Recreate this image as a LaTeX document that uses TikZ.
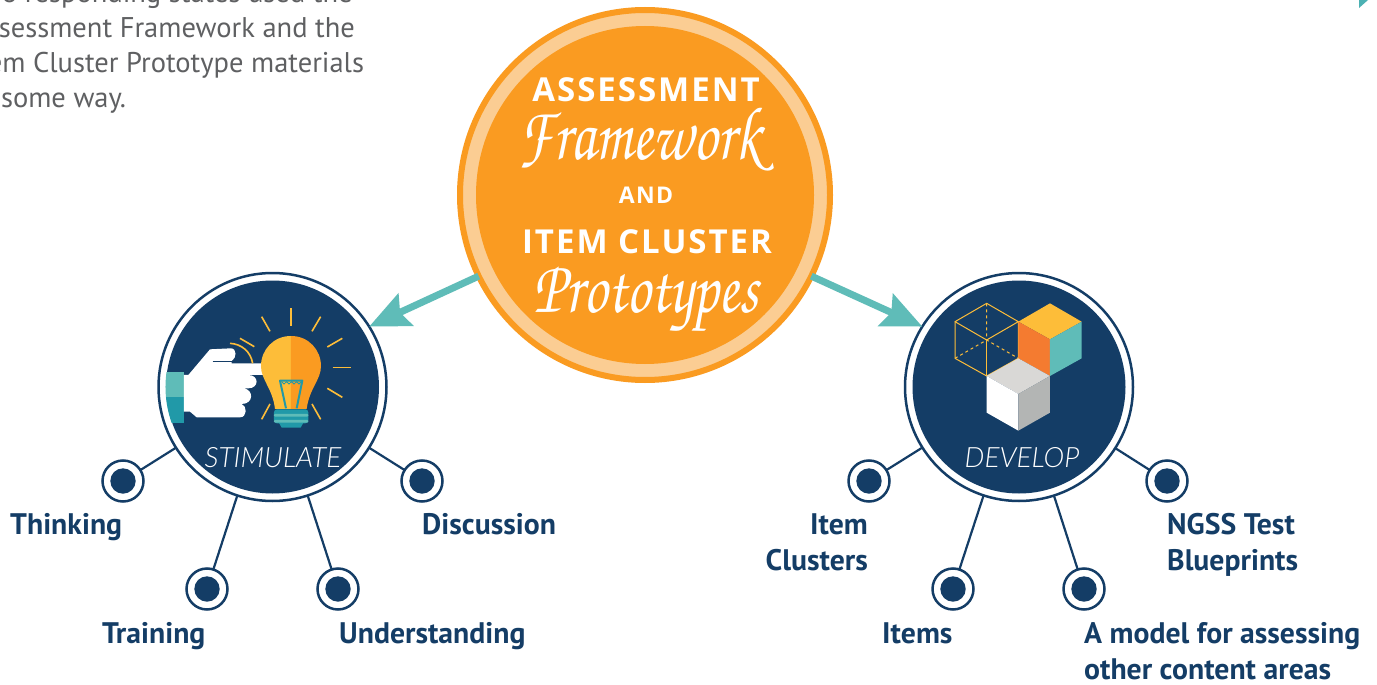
\documentclass[tikz,border=0pt]{standalone}
\usepackage{fontspec}
\usepackage{graphicx}
\usetikzlibrary{arrows.meta}
\setmainfont{Open Sans}
\newfontfamily\bodyfont{PT Sans}
\newfontfamily\capsfont[LetterSpace=6]{Open Sans Bold}
\newfontfamily\handfont{Lato Light Italic}
\newcommand{\penfont}{\usefont{OT1}{pzc}{mb}{it}}
\newcommand{\penline}[1]{\scalebox{0.78}[1]{#1}}
\definecolor{navy}{HTML}{143D66}
\definecolor{ringorange}{HTML}{FA9B21}
\definecolor{cream}{HTML}{FBCD93}
\definecolor{teal}{HTML}{5FBCB8}
\definecolor{darkteal}{HTML}{2199A8}
\definecolor{sun}{HTML}{FDBD39}
\definecolor{cubeorange}{HTML}{F47B30}
\definecolor{cubelight}{HTML}{D9D8D6}
\definecolor{cubegrey}{HTML}{B3B5B4}
\definecolor{bodygrey}{HTML}{5F6062}
\tikzset{
	framering/.style={circle,draw=ringorange,line width=6pt,fill=cream,minimum size=370pt,inner sep=0,outer sep=0,
		path picture={\fill[ringorange] (path picture bounding box.center) circle (169pt);}},
	hubring/.style={circle,draw=navy,line width=2.5pt,fill=white,minimum size=228pt,inner sep=0,outer sep=0,
		path picture={\fill[navy] (path picture bounding box.center) circle (106.5pt);}},
	dotring/.style={circle,draw=navy,line width=2.5pt,fill=white,minimum size=41pt,inner sep=0,outer sep=0,
		path picture={\fill[navy] (path picture bounding box.center) circle (12.7pt);}},
	spoke/.style={draw=navy,line width=2.2pt},
	bigarrow/.style={draw=teal,line width=7pt,-{Stealth[length=40pt,width=35pt,inset=6pt,fill=teal]}},
	itemlabel/.style={text=navy,font=\fontsize{29.7}{36}\selectfont\bfseries\bodyfont,inner sep=0,anchor=base west,align=left},
	bigcaps/.style={text=white,font=\fontsize{33}{33}\selectfont\capsfont,inner sep=0,anchor=base},
	scriptline/.style={text=white,font=\fontsize{76}{76}\selectfont\penfont,inner sep=0,anchor=base},
	handline/.style={text=white,font=\fontsize{28}{28}\selectfont\handfont,inner sep=0,anchor=base},
	ray/.style={draw=sun,line width=1.6pt},
	wire/.style={draw=sun,line width=1pt,line join=round},
}
\begin{document}
\begin{tikzpicture}[x=1pt,y=-1pt]
	\clip (0,0) rectangle (1377,685);
	\fill[white] (0,0) rectangle (1377,685);
	\fill[teal!70!darkteal] (1359,0) -- (1368,0) -- (1359,8) -- cycle;
	% intro text, cut off by the page
	\node[text=bodygrey,font=\fontsize{28.5}{35}\selectfont\bodyfont,anchor=base west,align=left,inner sep=0] (intro) at (-30,107)
		{of 8 responding states used the\\Assessment Framework and the\\Item Cluster Prototype materials\\in some way.};
	% main circles
	\node[framering] (frame) at (645,195) {};
	\node[hubring] (stimulate) at (272.5,387) {};
	\node[hubring] (develop) at (1019,387) {};
	\draw[bigarrow] (frame.206) -- (stimulate.32);
	\draw[bigarrow] (frame.334) -- (develop.148);
	% small dots
	\node[dotring] (thinking) at (123,481) {};
	\node[dotring] (training) at (207,589) {};
	\node[dotring] (understanding) at (338,589) {};
	\node[dotring] (discussion) at (422,481) {};
	\node[dotring] (clusters) at (869,481) {};
	\node[dotring] (items) at (953,589) {};
	\node[dotring] (model) at (1084,589) {};
	\node[dotring] (blueprints) at (1167,481) {};
	\foreach \dotname in {thinking,training,understanding,discussion}
		\draw[spoke] (stimulate) -- (\dotname);
	\foreach \dotname in {clusters,items,model,blueprints}
		\draw[spoke] (develop) -- (\dotname);
	% labels
	\node[itemlabel] (thinkinglabel) at (10,534) {Thinking};
	\node[itemlabel] (traininglabel) at (102,643) {Training};
	\node[itemlabel] (understandinglabel) at (339,643) {Understanding};
	\node[itemlabel] (discussionlabel) at (422,534) {Discussion};
	\node[itemlabel,align=right,anchor=base east] (clusterslabel) at (868,570) {Item\\Clusters};
	\node[itemlabel] (itemslabel) at (882,643) {Items};
	\node[itemlabel] (modellabel) at (1084,679) {A model for assessing\\other content areas};
	\node[itemlabel] (blueprintslabel) at (1167,570) {NGSS Test\\Blueprints};
	% text in the big circle
	\node[bigcaps] (assessment) at (646,101) {ASSESSMENT};
	\node[scriptline] (framework) at (640,159) {\penline{Framework}};
	\node[bigcaps,font=\fontsize{23}{23}\selectfont\capsfont] (andword) at (646,203) {AND};
	\node[bigcaps] (itemcluster) at (647,253) {ITEM CLUSTER};
	\node[scriptline] (prototypes) at (646,312) {\penline{Prototypes}};
	\node[handline] (stimulatetext) at (273,467) {STIMULATE};
	\node[handline] (developtext) at (1022,467) {DEVELOP};
	% hand and bulb
	\begin{scope}[shift={(140,260)},x=0.3333pt,y=-0.3333pt]
		\begin{scope}
			\clip (396,381) circle (106.5pt);
			\fill[teal] (60,335) rectangle (132,410);
			\fill[darkteal] (60,410) rectangle (132,488);
		\end{scope}
		\fill[white] (132,345) -- (145,345) -- (210,268) -- (272,265) .. controls (292,265) and (290,295) .. (275,303) -- (275,310) -- (385,310)
			.. controls (410,310) and (410,345) .. (385,345) -- (325,345) .. controls (358,345) and (358,385) .. (325,385) -- (310,385)
			.. controls (342,388) and (342,432) .. (305,432) .. controls (322,438) and (322,472) .. (300,472) -- (170,472) -- (150,455) -- (132,455) -- cycle;
		\draw[navy,line width=1pt] (218,305) -- (275,305);
		\draw[sun,line width=1.6pt] (270,250) .. controls (305,252) and (332,275) .. (338,310);
		\fill[sun] (453,228) .. controls (400,228) and (363,270) .. (363,318) .. controls (363,360) and (398,385) .. (405,447) -- (453,447) -- cycle;
		\fill[ringorange] (453,228) .. controls (506,228) and (543,270) .. (543,318) .. controls (543,360) and (508,385) .. (500,447) -- (453,447) -- cycle;
		\draw[darkteal,line width=2pt,line join=round] (438,445) -- (420,362) -- (487,362) -- (470,445);
		\draw[darkteal,line width=0.8pt] (425,365) -- (432,372) -- (440,365) -- (447,372) -- (455,365) -- (462,372) -- (470,365) -- (477,372) -- (484,365);
		\fill[darkteal,rounded corners=3pt] (402,448) rectangle (505,490);
		\fill[darkteal] (415,485) -- (492,485) -- (482,503) -- (425,503) -- cycle;
		\fill[teal,rounded corners=1pt] (402,462) rectangle (505,470);
		\fill[teal,rounded corners=1pt] (402,480) rectangle (505,488);
		\foreach \xa/\ya/\xb/\yb in {453/145/453/198,365/170/390/214,542/170/516/214,607/235/562/261,578/323/632/323,562/385/607/412,516/432/542/478,390/432/365/478,300/235/343/260}
			\draw[ray] (\xa,\ya) -- (\xb,\yb);
	\end{scope}
	% cubes
	\begin{scope}[shift={(890,260)},x=0.3333pt,y=-0.3333pt]
		\draw[wire] (195,185) -- (290,130) -- (385,185) -- (290,240) -- cycle;
		\draw[wire] (195,185) -- (195,295) -- (290,348) -- (385,295) -- (385,185);
		\draw[wire] (290,240) -- (290,348);
		\draw[wire,dashed] (290,130) -- (290,240) (195,295) -- (290,240) -- (385,295);
		\fill[sun] (385,185) -- (480,130) -- (575,185) -- (480,238) -- cycle;
		\fill[cubeorange] (385,185) -- (480,238) -- (480,348) -- (385,295) -- cycle;
		\fill[teal] (480,238) -- (575,185) -- (575,295) -- (480,348) -- cycle;
		\fill[cubelight] (290,348) -- (385,295) -- (480,348) -- (385,402) -- cycle;
		\fill[white] (290,348) -- (385,402) -- (385,512) -- (290,458) -- cycle;
		\fill[cubegrey] (385,402) -- (480,348) -- (480,458) -- (385,512) -- cycle;
	\end{scope}
\end{tikzpicture}
\end{document}
